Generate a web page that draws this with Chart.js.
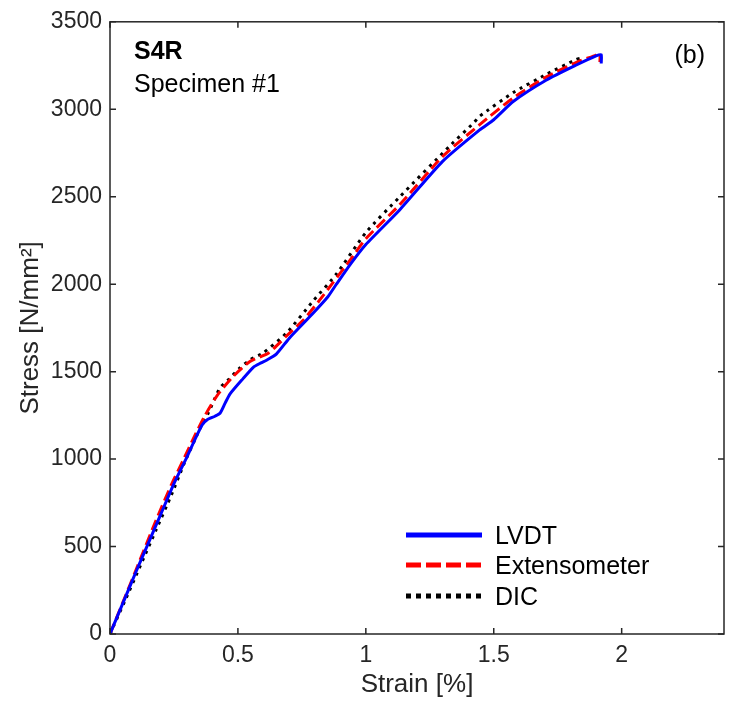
<!DOCTYPE html>
<html>
<head>
<meta charset="utf-8">
<script src="https://cdn.jsdelivr.net/npm/chart.js@4"></script>
<style>
  html, body { margin: 0; padding: 0; background: #ffffff; }
  #wrap { width: 734px; height: 706px; position: relative; }
</style>
</head>
<body>
<div id="wrap"><canvas id="c" width="734" height="706"></canvas></div>
<script>
// ---- data ----
const seriesNames = ['LVDT', 'Extensometer', 'DIC'];

const lvdtStrain = [0, 0.05, 0.10, 0.15, 0.20, 0.25, 0.30, 0.33, 0.36, 0.38, 0.41, 0.43, 0.45, 0.47, 0.52, 0.56, 0.59, 0.61, 0.65, 0.70, 0.79, 0.85, 0.885, 0.94, 1.00, 1.133, 1.30, 1.445, 1.50, 1.576, 1.706, 1.823, 1.90, 1.92, 1.92];
const lvdtStress = [0, 175, 350, 520, 690, 860, 1010, 1106, 1195, 1225, 1245, 1262, 1320, 1374, 1460, 1525, 1550, 1564, 1600, 1690, 1828, 1925, 2000, 2115, 2227, 2426, 2702, 2882, 2940, 3044, 3167, 3253, 3305, 3312, 3262];

const extStrain = [0, 0.05, 0.10, 0.18, 0.242, 0.285, 0.33, 0.371, 0.418, 0.475, 0.547, 0.62, 0.69, 0.756, 0.82, 0.87, 0.94, 1.00, 1.133, 1.30, 1.445, 1.576, 1.706, 1.823, 1.90, 1.915, 1.915];
const extStress = [0, 180, 360, 650, 860, 990, 1130, 1248, 1362, 1463, 1558, 1607, 1704, 1795, 1910, 2006, 2140, 2260, 2455, 2730, 2912, 3065, 3185, 3268, 3310, 3322, 3270];

const dicStrain = [0, 0.06, 0.12, 0.18, 0.24, 0.29, 0.33, 0.36, 0.383, 0.43, 0.46, 0.508, 0.55, 0.599, 0.69, 0.794, 0.885, 1.00, 1.133, 1.328, 1.42, 1.445, 1.576, 1.706, 1.823, 1.84];
const dicStress = [0, 195, 395, 595, 795, 975, 1105, 1200, 1260, 1408, 1450, 1522, 1570, 1607, 1721, 1904, 2058, 2295, 2500, 2790, 2920, 2960, 3095, 3200, 3285, 3292];

const xTicks = [0, 0.5, 1, 1.5, 2];
const xTickLabels = ['0', '0.5', '1', '1.5', '2'];
const yTicks = [0, 500, 1000, 1500, 2000, 2500, 3000, 3500];
const yTickLabels = ['0', '500', '1000', '1500', '2000', '2500', '3000', '3500'];

const xTitle = 'Strain [%]';
const yTitle = 'Stress [N/mm²]';
const noteBold = 'S4R';
const noteText = 'Specimen #1';
const panelTag = '(b)';

// ---- chart ----
const FONT = "'Liberation Sans', Arial, Helvetica, sans-serif";
const AXIS_COLOR = '#262626';

function pts(xs, ys) { return xs.map((x, i) => ({ x: x, y: ys[i] })); }

const boxPlugin = {
  id: 'matlabBox',
  afterDraw(chart) {
    const { ctx, chartArea: a, scales } = chart;
    const xs = scales.x, ys = scales.y;
    ctx.save();
    ctx.strokeStyle = AXIS_COLOR;
    ctx.lineWidth = 1.5;
    ctx.strokeRect(a.left, a.top, a.right - a.left, a.bottom - a.top);
    const L = 6;
    ctx.beginPath();
    xs.ticks.forEach(t => {
      const px = xs.getPixelForValue(t.value);
      ctx.moveTo(px, a.bottom); ctx.lineTo(px, a.bottom - L);
      ctx.moveTo(px, a.top); ctx.lineTo(px, a.top + L);
    });
    ys.ticks.forEach(t => {
      const py = ys.getPixelForValue(t.value);
      ctx.moveTo(a.left, py); ctx.lineTo(a.left + L, py);
      ctx.moveTo(a.right, py); ctx.lineTo(a.right - L, py);
    });
    ctx.stroke();

    // annotations
    ctx.fillStyle = '#000';
    ctx.textBaseline = 'alphabetic';
    ctx.textAlign = 'left';
    ctx.font = "bold 25px " + FONT;
    ctx.fillText(noteBold, a.left + 24, a.top + 37);
    ctx.font = "25px " + FONT;
    ctx.fillText(noteText, a.left + 24, a.top + 70);
    ctx.textAlign = 'right';
    ctx.fillText(panelTag, a.right - 19, a.top + 41);

    // legend
    const legendRows = [a.bottom - 99, a.bottom - 69, a.bottom - 38];
    const x0 = a.left + 296, x1 = a.left + 372, tx = a.left + 385;
    chart.data.datasets.forEach((ds, i) => {
      const y = legendRows[i];
      ctx.save();
      ctx.strokeStyle = ds.borderColor;
      ctx.lineWidth = 5;
      ctx.lineCap = 'butt';
      ctx.setLineDash(ds.legendDash || []);
      ctx.beginPath(); ctx.moveTo(x0, y); ctx.lineTo(x1, y); ctx.stroke();
      ctx.restore();
      ctx.fillStyle = '#000';
      ctx.textAlign = 'left';
      ctx.textBaseline = 'alphabetic';
      ctx.font = "25px " + FONT;
      ctx.fillText(ds.label, tx, y + 9);
    });
    ctx.restore();
  }
};

new Chart(document.getElementById('c'), {
  type: 'scatter',
  data: {
    datasets: [
      { label: seriesNames[0], data: pts(lvdtStrain, lvdtStress), showLine: true,
        borderColor: '#0000ff', borderWidth: 3, pointRadius: 0, tension: 0.2, legendDash: [] },
      { label: seriesNames[1], data: pts(extStrain, extStress), showLine: true,
        borderColor: '#ff0000', borderWidth: 3, borderDash: [11, 5], pointRadius: 0, tension: 0.2, legendDash: [15, 5] },
      { label: seriesNames[2], data: pts(dicStrain, dicStress), showLine: true,
        borderColor: '#000000', borderWidth: 3, borderDash: [3, 5], pointRadius: 0, tension: 0.2, legendDash: [5, 5] }
    ]
  },
  options: {
    responsive: false,
    animation: false,
    devicePixelRatio: 1,
    layout: { padding: { left: 0, right: 10, top: 20, bottom: 0 } },
    plugins: { legend: { display: false }, tooltip: { enabled: false } },
    scales: {
      x: {
        type: 'linear', min: 0, max: 2.4,
        afterBuildTicks: s => { s.ticks = xTicks.map(v => ({ value: v })); },
        afterFit: s => { s.height = 72; },
        grid: { display: false, drawTicks: false },
        border: { display: false },
        ticks: {
          color: AXIS_COLOR, font: { family: FONT, size: 23 }, padding: 8, maxRotation: 0,
          callback: (v) => { const i = xTicks.indexOf(v); return i >= 0 ? xTickLabels[i] : ''; }
        },
        title: { display: true, text: xTitle, color: AXIS_COLOR, font: { family: FONT, size: 26 }, padding: { top: 0, bottom: 6 } }
      },
      y: {
        type: 'linear', min: 0, max: 3500,
        afterBuildTicks: s => { s.ticks = yTicks.map(v => ({ value: v })); },
        afterFit: s => { s.width = 110; },
        grid: { display: false, drawTicks: false },
        border: { display: false },
        ticks: {
          color: AXIS_COLOR, font: { family: FONT, size: 23 }, padding: 8,
          callback: (v) => { const i = yTicks.indexOf(v); return i >= 0 ? yTickLabels[i] : ''; }
        },
        title: { display: true, text: yTitle, color: AXIS_COLOR, font: { family: FONT, size: 26 }, padding: { top: 15, bottom: 0 } }
      }
    }
  },
  plugins: [boxPlugin]
});
</script>
</body>
</html>
